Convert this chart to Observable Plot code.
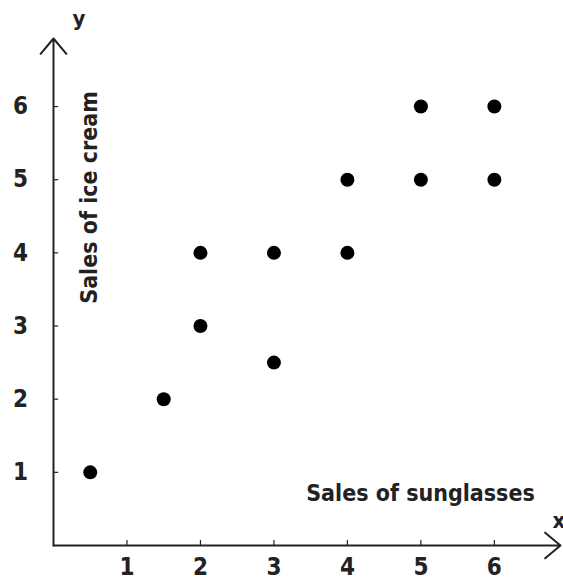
<!DOCTYPE html>
<html>
<head>
<meta charset="utf-8">
<script src="https://cdn.jsdelivr.net/npm/d3@7"></script>
<script src="https://cdn.jsdelivr.net/npm/@observablehq/plot@0.6"></script>
<style>
  body { margin: 0; background: #fff; }
  svg text { font-family: "DejaVu Sans Condensed", "DejaVu Sans", sans-serif; font-stretch: condensed; font-weight: bold; }
</style>
</head>
<body>
<div id="chart"></div>
<script>
const sunglasses = [0.5, 1.5, 2, 2, 3, 3, 4, 4, 5, 5, 6, 6];
const iceCream   = [1, 2, 3, 4, 4, 2.5, 5, 4, 6, 5, 6, 5];
const xTicks = [1, 2, 3, 4, 5, 6];
const yTicks = [1, 2, 3, 4, 5, 6];
const xTitle = "Sales of sunglasses";
const yTitle = "Sales of ice cream";
const xMax = 6.9, yMax = 6.93;

const points = sunglasses.map((x, i) => ({x, y: iceCream[i]}));
const ink = "#222";

const chart = Plot.plot({
  width: 563,
  height: 580,
  marginLeft: 53,
  marginRight: 3,
  marginTop: 38,
  marginBottom: 35,
  style: {color: ink, overflow: "visible"},
  x: {domain: [0, xMax]},
  y: {domain: [0, yMax]},
  marks: [
    Plot.arrow([0], {x1: 0, y1: 0, x2: xMax, y2: 0, stroke: ink, strokeWidth: 2, headLength: 15, headAngle: 80}),
    Plot.arrow([0], {x1: 0, y1: 0, x2: 0, y2: yMax, stroke: ink, strokeWidth: 2, headLength: 15, headAngle: 80}),
    Plot.ruleX(xTicks, {x: d => d, y1: 0, y2: 0.07, stroke: ink, strokeWidth: 1.2}),
    Plot.ruleY(yTicks, {y: d => d, x1: 0, x2: 0.07, stroke: ink, strokeWidth: 1.2}),
    Plot.axisX({ticks: xTicks, tickSize: 0, tickPadding: 12, fontSize: 24, tickFormat: d => d, label: null}),
    Plot.axisY({ticks: yTicks, tickSize: 0, tickPadding: 33, fontSize: 24, tickFormat: d => d, textAnchor: "middle", label: null}),
    Plot.dot(points, {x: "x", y: "y", r: 7, fill: "#000"}),
    Plot.text([xTitle], {frameAnchor: "bottom-left", dx: 367, dy: -45, text: d => d, fontSize: 23, fill: ink, textAnchor: "middle"}),
    Plot.text([yTitle], {frameAnchor: "top-left", dx: 27, dy: 159, rotate: -90, text: d => d, fontSize: 23, fill: ink, textAnchor: "middle"}),
    Plot.text(["y"], {frameAnchor: "top-left", dx: 19, dy: -28, text: d => d, fontSize: 22, fill: ink}),
    Plot.text(["x"], {frameAnchor: "bottom-right", dx: -8, dy: -18, text: d => d, fontSize: 22, fill: ink, textAnchor: "start"})
  ]
});
document.getElementById("chart").append(chart);
</script>
</body>
</html>
